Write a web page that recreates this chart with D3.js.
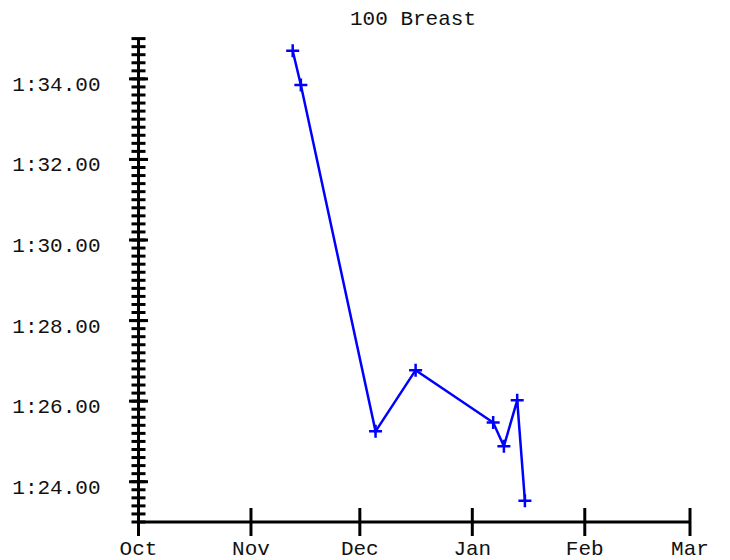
<!DOCTYPE html>
<html>
<head>
<meta charset="utf-8">
<script src="https://cdn.jsdelivr.net/npm/d3@7"></script>
<style>
  html, body { margin: 0; padding: 0; background: #fff; }
  svg { display: block; }
  text { font-family: "Liberation Mono", "Courier New", monospace; font-size: 21px; fill: #111; }
</style>
</head>
<body>
<svg id="chart" width="730" height="560"></svg>
<script>
// ---- data ----
const title = "100 Breast";
const swimDates = [
  "2023-11-12T12:00Z", "2023-11-14T18:00Z", "2023-12-05T08:00Z", "2023-12-16T09:00Z",
  "2024-01-06T18:00Z", "2024-01-09T17:00Z", "2024-01-13T09:00Z", "2024-01-15T12:00Z"
];
const swimTimes = [94.70, 93.85, 85.25, 86.77, 85.47, 84.88, 86.02, 83.53]; // seconds
const xDomain = ["2023-10-01T00:00Z", "2024-03-01T00:00Z"];
const monthLabels = ["Oct", "Nov", "Dec", "Jan", "Feb", "Mar"];
const yDomain = [83, 95];
const yMajorTicks = [84, 86, 88, 90, 92, 94];
const yMinorStep = 0.2;

// ---- layout ----
const svg = d3.select("#chart");
const mLeft = 138.5, mRight = 690, mTop = 38.6, mBottom = 522;

const x = d3.scaleUtc().domain(xDomain.map(d => new Date(d))).range([mLeft, mRight]);
const y = d3.scaleLinear().domain(yDomain).range([mBottom, mTop]);

const fmtTime = v => {
  const m = Math.floor(v / 60);
  const s = v - m * 60;
  return m + ":" + (s < 10 ? "0" : "") + s.toFixed(2);
};

// title
svg.append("text").attr("x", 413).attr("y", 25)
  .attr("text-anchor", "middle").text(title);

const axisColor = "#000", axisW = 3;

// y axis line
svg.append("line").attr("x1", mLeft).attr("x2", mLeft)
  .attr("y1", y(yDomain[1])).attr("y2", y(yDomain[0]))
  .attr("stroke", axisColor).attr("stroke-width", axisW);

// minor ticks
const minorTicks = d3.range(yDomain[0], yDomain[1] + 1e-6, yMinorStep);
svg.append("g").selectAll("line").data(minorTicks).join("line")
  .attr("x1", mLeft - 7).attr("x2", mLeft + 7)
  .attr("y1", d => y(d)).attr("y2", d => y(d))
  .attr("stroke", axisColor).attr("stroke-width", axisW);

// major ticks + labels
const gMaj = svg.append("g").selectAll("g").data(yMajorTicks).join("g");
gMaj.append("line")
  .attr("x1", mLeft - 9.5).attr("x2", mLeft + 9.5)
  .attr("y1", d => y(d)).attr("y2", d => y(d))
  .attr("stroke", axisColor).attr("stroke-width", axisW);
gMaj.append("text")
  .attr("x", 100.5).attr("y", d => y(d) + 12)
  .attr("text-anchor", "end").text(fmtTime);

// x axis line
svg.append("line").attr("x1", mLeft).attr("x2", mRight)
  .attr("y1", mBottom).attr("y2", mBottom)
  .attr("stroke", axisColor).attr("stroke-width", axisW);

const monthTicks = x.ticks(d3.utcMonth.every(1));
const gx = svg.append("g").selectAll("g").data(monthTicks).join("g");
gx.append("line")
  .attr("x1", d => x(d)).attr("x2", d => x(d))
  .attr("y1", mBottom - 14).attr("y2", mBottom + 14)
  .attr("stroke", axisColor).attr("stroke-width", axisW);
gx.append("text")
  .attr("x", d => x(d)).attr("y", 555)
  .attr("text-anchor", "middle")
  .text((d, i) => monthLabels[i]);

// data line
const pts = swimDates.map((d, i) => ({ date: new Date(d), v: swimTimes[i] }));
const line = d3.line().x(d => x(d.date)).y(d => y(d.v));
svg.append("path").datum(pts).attr("d", line)
  .attr("fill", "none").attr("stroke", "#0000ff").attr("stroke-width", 2.5);

// plus markers
const sz = 6.5;
svg.append("g").selectAll("path").data(pts).join("path")
  .attr("d", d => {
    const cx = x(d.date), cy = y(d.v);
    return `M${cx - sz},${cy}H${cx + sz}M${cx},${cy - sz}V${cy + sz}`;
  })
  .attr("stroke", "#0000ff").attr("stroke-width", 2.5).attr("fill", "none");
</script>
</body>
</html>
